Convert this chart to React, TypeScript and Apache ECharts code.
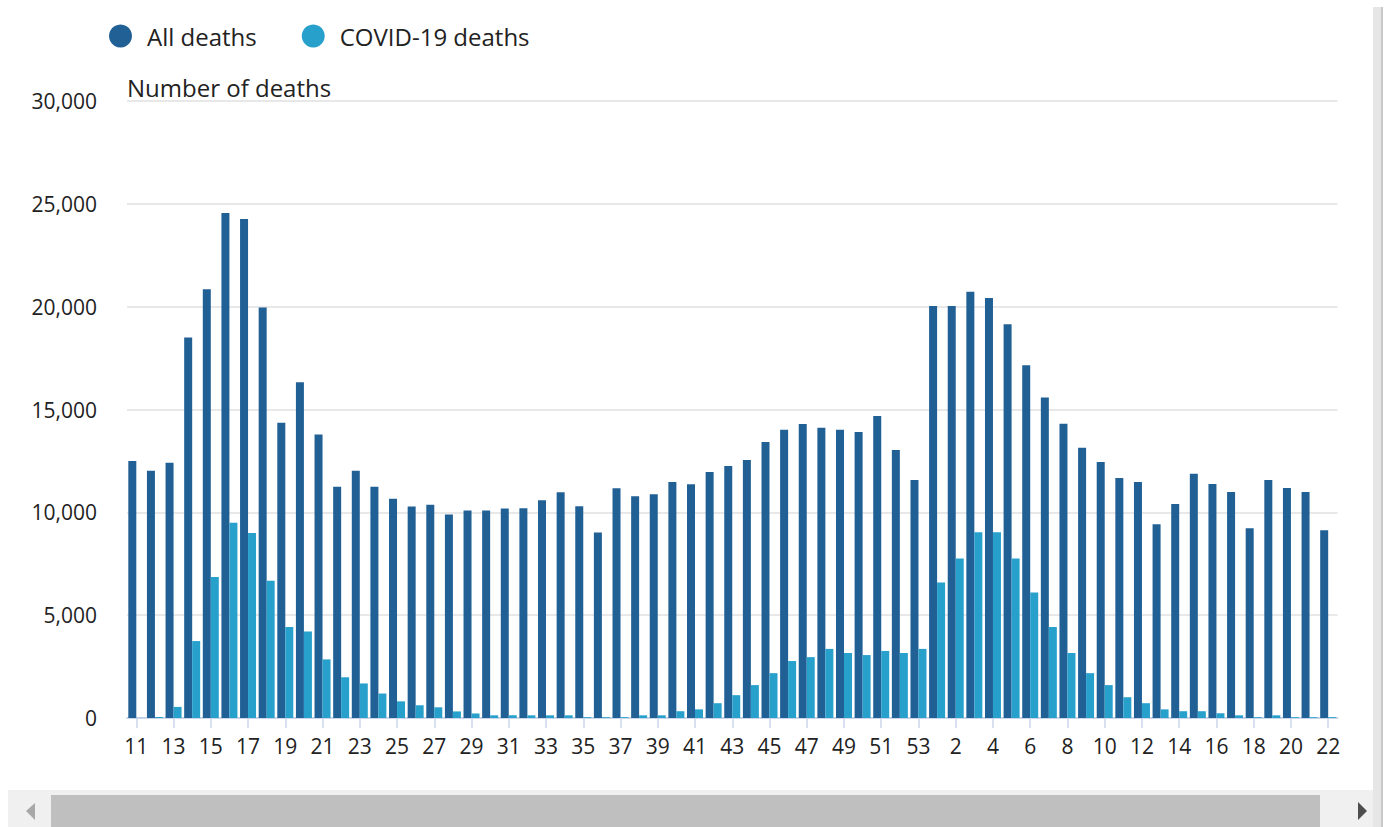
import React, { useEffect, useRef } from "react";
import * as echarts from "echarts";

const weeks2020 = ["11","12","13","14","15","16","17","18","19","20","21","22","23","24","25","26","27","28","29","30","31","32","33","34","35","36","37","38","39","40","41","42","43","44","45","46","47","48","49","50","51","52","53"];
const weeks2021 = ["1","2","3","4","5","6","7","8","9","10","11","12","13","14","15","16","17","18","19","20","21","22"];
const categories = [...weeks2020, ...weeks2021];

const allDeaths = [
  12500, 12020, 12410, 18500, 20850, 24550, 24260, 19960, 14360, 16320,
  13790, 11250, 12020, 11250, 10660, 10280, 10370, 9890, 10090, 10090,
  10190, 10200, 10590, 10980, 10290, 9020, 11170, 10780, 10880, 11470,
  11370, 11960, 12250, 12540, 13420, 14010, 14300, 14110, 14010, 13910,
  14690, 13030, 11570,
  20030, 20030, 20720, 20420, 19150, 17150, 15580, 14310, 13140, 12450,
  11670, 11480, 9420, 10400, 11870, 11380, 10990, 9230, 11570, 11180,
  10990, 9130,
];

const covidDeaths = [
  5, 50, 540, 3740, 6850, 9490, 9000, 6670, 4420, 4210,
  2850, 1980, 1680, 1190, 810, 620, 520, 320, 220, 130,
  130, 130, 130, 130, 40, 40, 40, 130, 130, 330,
  420, 720, 1110, 1600, 2180, 2770, 2960, 3360, 3160, 3060,
  3260, 3160, 3360,
  6590, 7760, 9030, 9030, 7760, 6100, 4430, 3160, 2180, 1600,
  1010, 720, 420, 330, 330, 230, 130, 40, 130, 40,
  40, 40,
];

const yTicks = [0, 5000, 10000, 15000, 20000, 25000, 30000];

const FONT = "'Open Sans', 'Noto Sans', sans-serif";

export default function App() {
  const ref = useRef<HTMLDivElement>(null);
  useEffect(() => {
    if (!ref.current) return;
    const chart = echarts.init(ref.current, undefined, { renderer: "svg" });
    chart.setOption({
      animation: false,
      textStyle: { fontFamily: FONT },
      legend: {
        left: 109,
        top: 24,
        padding: 0,
        icon: "circle",
        itemWidth: 23,
        itemHeight: 23,
        itemGap: 45,
        textStyle: { fontSize: 24, color: "#222", fontFamily: FONT, padding: [0, 0, 0, 10] },
        data: ["All deaths", "COVID-19 deaths"],
      },
      grid: { left: 127, right: 50.5, top: 101, bottom: 109, containLabel: false },
      xAxis: {
        type: "category",
        data: categories,
        boundaryGap: true,
        axisLine: { show: true, lineStyle: { color: "#ccd6eb", width: 2 } },
        axisTick: { show: true, alignWithLabel: true, interval: 1, length: 10, lineStyle: { color: "#ccd6eb", width: 1.5 } },
        axisLabel: { interval: 1, fontSize: 21, color: "#222", margin: 17, fontFamily: FONT },
      },
      yAxis: {
        type: "value",
        min: yTicks[0],
        max: yTicks[yTicks.length - 1],
        interval: 5000,
        axisLine: { show: false },
        axisTick: { show: false },
        splitLine: { lineStyle: { color: "#e8e8e8", width: 2 } },
        axisLabel: {
          fontSize: 21,
          color: "#222",
          margin: 30,
          padding: [5, 0, 0, 0],
          fontFamily: FONT,
          formatter: (v: number) => v.toLocaleString("en-GB"),
        },
      },
      series: [
        {
          name: "All deaths",
          type: "bar",
          data: allDeaths,
          barWidth: 8,
          barGap: "0%",
          itemStyle: { color: "#206095" },
        },
        {
          name: "COVID-19 deaths",
          type: "bar",
          data: covidDeaths,
          barWidth: 8,
          barGap: "0%",
          itemStyle: { color: "#27a0cc" },
        },
      ],
      graphic: [
        {
          type: "text",
          left: 127,
          top: 75,
          style: { text: "Number of deaths", fontSize: 24, fill: "#222", fontFamily: FONT },
        },
        { type: "rect", shape: { x: 8, y: 790, width: 1365, height: 37 }, style: { fill: "#f0f0f0" } },
        { type: "rect", shape: { x: 51, y: 795, width: 1269, height: 32 }, style: { fill: "#bfbfbf" } },
        { type: "polygon", shape: { points: [[26, 811], [35, 803], [35, 820]] }, style: { fill: "#a8a8a8" } },
        { type: "polygon", shape: { points: [[1358, 802], [1367, 811], [1358, 820]] }, style: { fill: "#4d4d4d" } },
        { type: "rect", shape: { x: 1373, y: 7, width: 10, height: 820 }, style: { fill: "#e6e6e6" } },
        { type: "rect", shape: { x: 1381, y: 7, width: 2, height: 820 }, style: { fill: "#c8c8c8" } },
      ],
    });
    return () => chart.dispose();
  }, []);
  return <div ref={ref} style={{ position: "fixed", left: 0, top: 0, width: 1388, height: 827, background: "#fff" }} />;
}
